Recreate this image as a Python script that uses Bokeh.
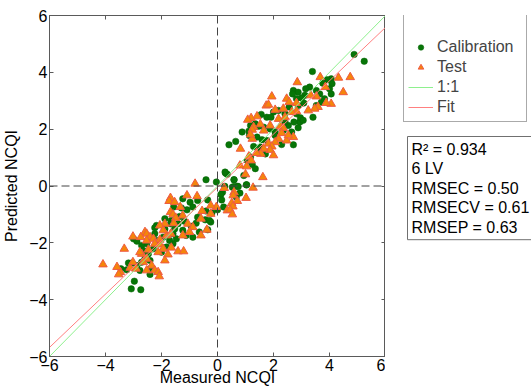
from bokeh.plotting import figure
from bokeh.layouts import row
from bokeh.models import (Range1d, FixedTicker, LinearAxis, Span, Legend,
                          LegendItem, Label, ColumnDataSource)
from bokeh.embed import file_html
from bokeh.resources import INLINE

# ---------------- data ----------------
cal_x = [4.88, 5.24, 3.39, 4.06, 3.91, 4.09, 4.0, 3.29, 3.15, 2.71, 2.88, 2.68, 3.12, 3.0, 2.82,
         3.71, 3.82, 4.06, 3.53, 3.08, 2.88, 2.56, 2.18, 2.41, 2.0, 2.82, 2.94, 2.96, 3.41, 1.56,
         1.76, 1.91, 1.35, 1.47, 1.18, 0.88, 1.12, 1.65, 1.88, 2.06, 2.35, 2.88, 2.53, 2.65, 1.14,
         1.41, 1.59, 0.65, 0.41, 1.76, 2.29, 2.71, 2.06, 1.29, 1.53, 1.47, 1.71, 1.18, 1.06, 1.24,
         1.35, 0.29, 0.35, 0.59, 1.04, 0.71, 0.53, 0.26, 3.06, 2.41, 2.73, 3.53, 3.65, 3.76,
         -0.04, -0.41, 0.27, 0.59, 0.59, 0.74, 1.03, 0.18, 0.12, 0.80, 0.67, 0.15, -0.35, 0.22,
         0.0, -0.41, -0.2, -0.44, -0.24, -0.35, 0.94,
         -1.24, -0.98, -0.71, -1.565, -1.29, -0.88, -1.09, -0.71, -0.29, -1.88, -1.65, -1.68,
         -1.41, -1.18, -0.94, -0.765, -2.18, -2.24, -1.88, -1.53, -1.24, -0.65, -0.88, -1.59,
         -2.24, -2.41, -1.94, -1.47, -1.12, -3.0, -2.88, -2.53, -2.71, -2.18, -2.65, -2.47,
         -2.29, -1.82, -1.59, -2.0, -2.59, -2.41, -2.71, -3.18, -3.06, -2.88, -2.77, -2.41,
         -3.45, -3.24, -2.41, -2.97, -3.08, -2.74, -1.71, -1.35]
cal_y = [4.63, 4.39, 4.03, 3.77, 3.74, 3.60, 3.42, 3.48, 3.42, 3.36, 3.30, 3.24, 3.19, 3.10, 3.07,
         2.95, 3.07, 3.24, 2.83, 2.92, 2.83, 2.78, 2.66, 2.54, 2.60, 2.54, 2.25, 2.40, 2.42, 2.52,
         2.42, 2.42, 2.19, 2.10, 2.13, 1.90, 1.93, 2.07, 2.01, 1.90, 1.95, 2.05, 2.13, 1.90, 1.78,
         1.72, 1.63, 1.57, 1.45, 1.60, 1.46, 1.45, 1.78, 1.39, 1.37, 1.19, 1.13, 1.02, 0.90, 0.76,
         0.61, 0.45, 0.41, 0.22, 0.04, -0.01, -0.04, -0.01, 2.31, 2.25, 2.25, 3.36, 3.24, 3.62,
         0.14, 0.22, 0.49, 0.22, -0.02, -0.02, 0.04, -0.22, -0.30, -0.25, -0.39, -0.49, -0.49, -0.74,
         -0.84, -0.88, -0.95, -1.19, -1.27, -1.54, 0.37,
         -0.45, -0.57, -0.51, -0.74, -0.77, -0.74, -0.84, -1.10, -1.21, -1.15, -1.21, -1.33,
         -1.33, -1.24, -1.42, -1.31, -1.39, -1.47, -1.51, -1.51, -1.56, -1.62, -1.80, -1.68,
         -1.68, -1.80, -1.80, -1.86, -1.74, -1.86, -1.94, -2.03, -2.09, -1.92, -2.27, -2.39,
         -2.21, -2.15, -2.03, -2.33, -2.56, -2.62, -2.68, -2.71, -2.71, -2.80, -2.97, -2.91,
         -2.91, -2.95, -3.11, -3.35, -3.62, -3.65, -1.92, -1.07]

test_x = [3.67, 4.32, 4.74, 2.85, 4.49, 3.85, 3.53, 3.33, 2.82, 2.47, 2.56, 1.94, 1.74, 1.82,
          4.06, 3.88, 3.59, 3.47, 3.24, 2.35, 2.06, 2.41, 2.18, 1.41, 1.2, 1.08, 1.29, 1.53, 1.24,
          1.65, 1.88, 2.24, 2.35, 2.29, 2.71, 2.47, 2.53, 2.18, 2.06, 1.24, 1.18, 1.82, 1.94, 1.88,
          2.0, 1.65, 1.55, 1.39, 0.82, 1.12, 1.2, 0.8, 1.04, 1.0, 1.62, 0.24, 1.27, 2.82, 2.65,
          0.59, 0.56, 0.71, 1.02, 0.51, 0.55, 0.35, 0.45, 0.53, -0.04, -0.24, -0.38,
          -1.68, -1.09, -0.73, -1.73, -1.53, -1.33, -0.24, -0.55, -1.68, -1.59, -1.49, -1.24,
          -0.59, -1.565, -1.88, -2.06, -1.06, -0.88, -0.59, -2.59, -2.53, -3.02, -2.74, -2.41,
          -2.29, -2.06, -1.82, -1.24, -2.24, -2.06, -1.94, -1.65, -1.41, -1.21, -3.33, -2.47,
          -2.12, -2.71, -1.77, -1.88, -2.53, -2.65, -2.35, -2.24, -2.12, -2.08, -2.53, -3.12,
          -2.91, -3.47, -3.59, -3.53, -4.09, -3.02, -2.77, -1.94, -1.67, -2.53, -1.0, -0.8]
test_y = [3.83, 3.81, 3.83, 3.65, 3.30, 3.48, 3.15, 3.19, 2.92, 3.07, 2.95, 3.15, 2.83, 2.86,
          2.89, 2.92, 2.78, 2.72, 2.66, 2.72, 2.68, 2.42, 2.36, 2.45, 2.39, 2.33, 2.07, 2.17, 1.98,
          1.95, 2.13, 2.10, 2.04, 1.86, 1.72, 1.60, 1.78, 1.66, 1.54, 1.66, 1.81, 1.49, 1.39, 1.27,
          1.08, 1.31, 1.13, 1.16, 1.31, 1.04, 0.90, 0.72, 0.69, 0.41, 0.31, -0.07, -0.06, 2.63, 2.60,
          -0.22, -0.33, -0.53, -0.42, -0.60, -0.72, -0.86, -0.84, -1.0, -0.74, -0.98, -1.54,
          -0.42, -0.33, -0.36, -0.53, -0.57, -0.74, -0.69, -0.88, -0.92, -1.0, -1.12, -1.04,
          -1.15, -1.31, -1.33, -1.39, -1.33, -1.45, -1.74, -1.62, -1.68, -1.78, -1.80, -1.80,
          -1.86, -1.89, -1.74, -1.74, -2.03, -2.06, -2.21, -2.17, -2.30, -2.30, -2.21, -2.24,
          -2.33, -2.39, -2.41, -2.62, -2.56, -2.68, -2.80, -2.97, -3.03, -3.18, -2.97, -2.88,
          -2.91, -3.03, -2.85, -3.11, -2.76, -2.68, -2.33, -1.56, -1.68, -1.92, -1.62, 0.08]

one_x = [-6, 6]
one_y = [-6, 6]
fit_x = [-6, 6]
fit_y = [-5.68, 5.58]

ticks = [-6, -4, -2, 0, 2, 4, 6]
legend_labels = [" ", "Calibration", "Test", "1:1", "Fit"]
stats_lines = ["R\u00b2 = 0.934", "6 LV", "RMSEC = 0.50", "RMSECV = 0.61", "RMSEP = 0.63"]

# ---------------- styles ----------------
FONT = "Liberation Sans"
FRAME_C = "#5a5a5a"
CAL_STYLE = dict(marker="circle", size=6.5, fill_color="#077507",
                 line_color="#066406", line_width=0.5)
TEST_STYLE = dict(marker="triangle", size=8.5, fill_color="#f5850a",
                  line_color="#ee5a44", line_width=1)
ONE_STYLE = dict(line_color="#8ef08e", line_width=1)
FIT_STYLE = dict(line_color="#ff8080", line_width=1)

# ---------------- main figure ----------------
p = figure(width=385, height=392, output_backend="svg", toolbar_location=None,
           x_range=Range1d(-6, 6), y_range=Range1d(-6, 6),
           min_border_left=45, min_border_right=0, min_border_top=15,
           min_border_bottom=36, x_axis_label="Measured NCQI",
           y_axis_label="Predicted NCQI")
p.grid.visible = False
p.outline_line_color = FRAME_C
p.outline_line_width = 1

ticker = FixedTicker(ticks=ticks)
for ax in p.xaxis + p.yaxis:
    ax.ticker = ticker
    ax.major_tick_in = 4
    ax.major_tick_out = 0
    ax.minor_tick_line_color = None
    ax.axis_line_color = FRAME_C
    ax.major_tick_line_color = FRAME_C
    ax.major_label_text_font = FONT
    ax.major_label_text_font_size = "16px"
    ax.major_label_text_color = "black"
    ax.axis_label_text_font = FONT
    ax.axis_label_text_font_size = "16px"
    ax.axis_label_text_font_style = "normal"
    ax.axis_label_text_color = "black"
    ax.major_label_standoff = 2
p.xaxis.axis_label_standoff = -5
p.yaxis.axis_label_standoff = 6

for side in ("above", "right"):
    ax2 = LinearAxis(ticker=ticker, major_tick_in=4, major_tick_out=0,
                     minor_tick_line_color=None, axis_line_color=FRAME_C,
                     major_tick_line_color=FRAME_C, major_label_text_font_size="1px",
                     major_label_text_color=None, major_label_standoff=0)
    p.add_layout(ax2, side)

p.add_layout(Span(location=0, dimension="height", line_color="#444444",
                  line_dash="8 4", line_width=1))
p.add_layout(Span(location=0, dimension="width", line_color="#444444",
                  line_dash="8 4", line_width=1))

cal_src = ColumnDataSource(dict(x=cal_x, y=cal_y))
test_src = ColumnDataSource(dict(x=test_x, y=test_y))
one_src = ColumnDataSource(dict(x=one_x, y=one_y))
fit_src = ColumnDataSource(dict(x=fit_x, y=fit_y))
p.scatter("x", "y", source=cal_src, **CAL_STYLE)
p.scatter("x", "y", source=test_src, **TEST_STYLE)
p.line("x", "y", source=one_src, **ONE_STYLE)
p.line("x", "y", source=fit_src, **FIT_STYLE)

# ---------------- side panel (legend + statistics) ----------------
# its frame is aligned with the main frame (page y 15..356); y data = page y
s = figure(width=146, height=392, output_backend="svg", toolbar_location=None,
           x_range=Range1d(0, 146), y_range=Range1d(356, 15),
           min_border_left=0, min_border_right=0, min_border_top=15,
           min_border_bottom=36, x_axis_location=None, y_axis_location=None)
s.grid.visible = False
s.outline_line_color = None

proxies = [
    s.scatter("x", "y", source=cal_src, size=1, fill_alpha=0, line_alpha=0, visible=False),
    s.scatter("x", "y", source=cal_src, visible=False, **CAL_STYLE),
    s.scatter("x", "y", source=test_src, visible=False, **TEST_STYLE),
    s.line("x", "y", source=one_src, visible=False, **ONE_STYLE),
    s.line("x", "y", source=fit_src, visible=False, **FIT_STYLE),
]
legend = Legend(items=[LegendItem(label=lab, renderers=[r])
                       for lab, r in zip(legend_labels, proxies)],
                location=(18, 234), orientation="vertical",
                label_text_font=FONT, label_text_font_size="16px",
                label_height=20, glyph_height=14, glyph_width=25,
                label_standoff=4, label_width=85, spacing=0, padding=4,
                margin=0, border_line_color="#555555", border_line_width=1,
                background_fill_color="white", background_fill_alpha=1)
s.add_layout(legend, "center")

stats = Label(x=22, y=136, text="\n".join(stats_lines), text_font=FONT,
              text_font_size="16px", text_baseline="top", text_align="left",
              text_line_height=1.15,
              text_color="black", border_line_color="#707070", border_line_width=1,
              background_fill_color="white", padding=4)
s.add_layout(stats)

layout = row(p, s)
open("out.html", "w").write(file_html(layout, INLINE))
